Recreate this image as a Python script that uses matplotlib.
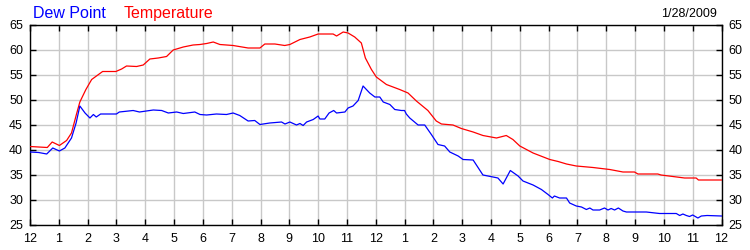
import matplotlib
matplotlib.use("Agg")
import matplotlib.pyplot as plt

# ---- data (hours since midnight, values in degrees F) ----
temp_hours = [0.0, 0.3, 0.6, 0.77, 1.02, 1.27, 1.44, 1.61, 1.73, 1.94, 2.14, 2.52, 2.98, 3.18,
              3.35, 3.7, 3.93, 4.16, 4.45, 4.74, 4.97, 5.32, 5.66, 5.9, 6.13, 6.36, 6.59, 7.05,
              7.57, 7.98, 8.15, 8.5, 8.84, 9.02, 9.37, 9.71, 10.0, 10.52, 10.64, 10.87, 11.04,
              11.27, 11.5, 11.64, 11.85, 12.02, 12.37, 12.83, 13.12, 13.41, 13.81, 14.1, 14.28,
              14.68, 14.97, 15.38, 15.72, 16.19, 16.53, 16.76, 17.0, 17.46, 18.04, 18.33, 18.62,
              18.96, 19.54, 20.12, 20.58, 20.98, 21.1, 21.79, 21.9, 22.72, 23.12, 23.2, 24.0]
temperature = [40.6, 40.5, 40.4, 41.5, 40.8, 41.8, 43.3, 47.0, 49.5, 52.0, 54.0, 55.6, 55.6, 56.1,
               56.7, 56.6, 56.9, 58.1, 58.3, 58.6, 59.9, 60.5, 60.9, 61.0, 61.2, 61.5, 61.0, 60.8,
               60.3, 60.3, 61.1, 61.1, 60.8, 61.0, 62.0, 62.5, 63.1, 63.1, 62.7, 63.5, 63.3,
               62.5, 61.3, 58.3, 56.0, 54.5, 53.0, 52.0, 51.3, 49.7, 47.8, 45.7, 45.1,
               44.9, 44.2, 43.5, 42.8, 42.3, 42.8, 42.0, 40.7, 39.3, 38.0, 37.6, 37.1,
               36.7, 36.4, 36.0, 35.5, 35.5, 35.1, 35.1, 34.9, 34.3, 34.3, 33.9, 33.9]

dew_hours = [0.0, 0.3, 0.58, 0.79, 1.02, 1.21, 1.44, 1.6, 1.73, 1.91, 2.08, 2.2, 2.3, 2.45, 3.0,
             3.1, 3.58, 3.8, 4.28, 4.57, 4.8, 5.09, 5.32, 5.72, 5.9, 6.13, 6.47, 6.82, 7.05, 7.28,
             7.57, 7.8, 7.98, 8.32, 8.73, 8.85, 9.02, 9.25, 9.37, 9.48, 9.6, 9.83, 10.0, 10.06,
             10.23, 10.38, 10.54, 10.64, 10.93, 11.04, 11.21, 11.39, 11.56, 11.79, 11.97, 12.14,
             12.26, 12.49, 12.66, 12.89, 13.0, 13.06, 13.18, 13.47, 13.7, 13.93, 14.16, 14.39,
             14.57, 14.86, 15.03, 15.38, 15.72, 16.07, 16.24, 16.42, 16.67, 16.94, 17.11, 17.46,
             17.75, 17.98, 18.13, 18.2, 18.38, 18.62, 18.73, 18.96, 19.14, 19.31, 19.43, 19.54,
             19.77, 19.94, 20.06, 20.17, 20.29, 20.42, 20.58, 20.7, 21.39, 21.85, 22.43, 22.55,
             22.66, 22.78, 22.89, 23.0, 23.18, 23.3, 23.5, 24.0]
dew_point = [39.5, 39.4, 39.1, 40.3, 39.7, 40.3, 42.3, 45.3, 48.7, 47.3, 46.3, 47.0, 46.5, 47.1, 47.1,
             47.5, 47.8, 47.5, 47.9, 47.8, 47.3, 47.5, 47.2, 47.5, 47.0, 46.9, 47.1, 47.0, 47.3, 46.8,
             45.7, 45.8, 45.0, 45.3, 45.5, 45.1, 45.5, 44.9, 45.2, 44.8, 45.5, 46.0, 46.7, 46.1,
             46.1, 47.3, 47.8, 47.3, 47.5, 48.3, 48.7, 49.8, 52.7, 51.3, 50.5, 50.5,
             49.5, 49.0, 48.0, 47.8, 47.8, 47.1, 46.3, 44.9, 44.9, 43.0, 41.0, 40.7,
             39.5, 38.7, 38.0, 37.9, 34.9, 34.5, 34.3, 33.1, 35.8, 34.7, 33.7, 32.9,
             32.0, 31.0, 30.3, 30.7, 30.3, 30.3, 29.3, 28.7, 28.5, 28.0, 28.3, 27.9,
             27.9, 28.3, 27.9, 28.2, 27.9, 28.3, 27.7, 27.5, 27.5, 27.2, 27.2, 26.8,
             27.1, 26.8, 26.6, 26.9, 26.3, 26.7, 26.8, 26.7]

x_ticks = list(range(0, 25))
x_labels = ["12"] + [str(i) for i in range(1, 12)] + ["12"] + [str(i) for i in range(1, 12)] + ["12"]
y_ticks = [25, 30, 35, 40, 45, 50, 55, 60, 65]
date_label = "1/28/2009"

plt.rcParams['font.family'] = ['Liberation Sans', 'DejaVu Sans']

fig = plt.figure(figsize=(7.5, 2.5), dpi=100)
ax = fig.add_axes([30 / 750, 1 - 224.5 / 250, (721.5 - 30) / 750, (224.5 - 24.5) / 250])

ax.plot(temp_hours, temperature, color='#FF0000', lw=0.9, zorder=3)
ax.plot(dew_hours, dew_point, color='#0000FF', lw=0.9, zorder=3)

ax.set_xlim(0, 24)
ax.set_ylim(25, 65)
ax.set_xticks(x_ticks)
ax.set_xticklabels(x_labels)
ax.set_yticks(y_ticks)
ax.grid(True, color='#C8C8C8', lw=1.0, zorder=0)
ax.set_axisbelow(True)

ax.tick_params(axis='both', which='both', direction='in', length=4, width=1,
               top=True, right=True, labelright=True, labelsize=9, colors='black')
ax.tick_params(axis='x', pad=6)
ax.tick_params(axis='y', pad=5)
for s in ax.spines.values():
    s.set_color('black')
    s.set_linewidth(1.0)

fig.text(33 / 750, 1 - 17.5 / 250, "Dew Point", color='#0000FF', fontsize=11.5, va='baseline', ha='left')
fig.text(124 / 750, 1 - 17.5 / 250, "Temperature", color='#FF0000', fontsize=11.5, va='baseline', ha='left')
fig.text(717 / 750, 1 - 17 / 250, date_label, color='black', fontsize=9, va='baseline', ha='right')

fig.savefig("out.png", dpi=100, facecolor='white')
